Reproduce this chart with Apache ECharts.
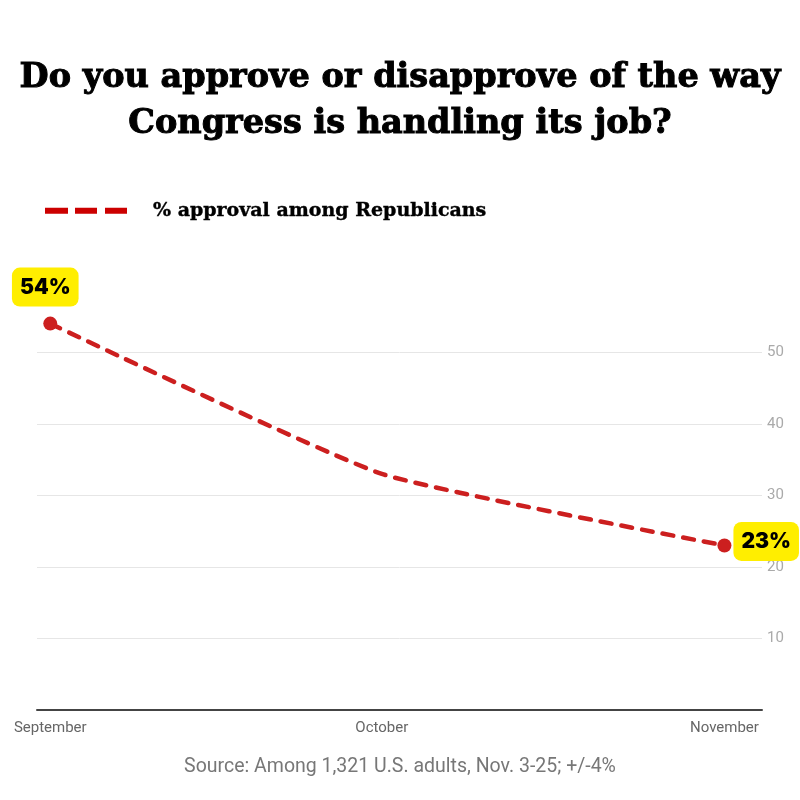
<!DOCTYPE html>
<html><head><meta charset="utf-8">
<script src="https://cdn.jsdelivr.net/npm/echarts@6/dist/echarts.min.js"></script>
<style>html,body{margin:0;padding:0;background:#fff}#c{width:800px;height:800px}</style>
</head><body><div id="c"></div>
<script>
const categories = ['September', 'October', 'November'];
const dayOffsets = [0, 30, 61];
const approval = [54, 33, 23];
const yTicks = [10, 20, 30, 40, 50];

const chart = echarts.init(document.getElementById('c'));
const seriesData = approval.map((v, i) => {
  const item = { value: [dayOffsets[i], v] };
  if (i === 1) item.symbolSize = 0;
  if (i === 0) item.label = { show: true, position: 'top', distance: 10, offset: [-5, 0] };
  if (i === approval.length - 1) item.label = { show: true, position: 'right', distance: 2, offset: [0, -4] };
  return item;
});
chart.setOption({
  backgroundColor: '#fff',
  title: {
    text: 'Do you approve or disapprove of the way\nCongress is handling its job?',
    left: 'center', top: 50,
    textStyle: { fontFamily: 'DejaVu Serif', fontWeight: 900, fontSize: 33.5, lineHeight: 46, color: '#000',
      textBorderColor: '#000', textBorderWidth: 1 }
  },
  legend: {
    left: 40, top: 196,
    itemWidth: 82, itemHeight: 6,
    icon: 'path://M0,0h23v6h-23z M30,0h22v6h-22z M60,0h22v6h-22z',
    itemStyle: { color: '#cc0000' },
    textStyle: { fontFamily: 'DejaVu Serif', fontWeight: 'bold', fontSize: 19, color: '#000', padding: [0, 0, 0, 21],
      textBorderColor: '#000', textBorderWidth: 0.4 },
    data: ['% approval among Republicans']
  },
  grid: { left: 37, right: 38, top: 295, bottom: 90, containLabel: false },
  xAxis: {
    type: 'value', min: -1.2, max: 64.4,
    splitLine: { show: false },
    axisLine: { show: true, lineStyle: { color: '#444', width: 2 } },
    axisTick: { show: false },
    axisLabel: {
      customValues: dayOffsets,
      formatter: (v) => categories[dayOffsets.indexOf(v)] || '',
      color: '#666', fontSize: 15, fontFamily: 'Roboto', margin: 11
    }
  },
  yAxis: {
    type: 'value', position: 'right', min: 0, max: 58, interval: 10,
    axisLine: { show: false }, axisTick: { show: false },
    splitLine: { showMaxLine: false, lineStyle: { color: '#e6e6e6', width: 1 } },
    axisLabel: {
      customValues: yTicks,
      color: '#aaa', fontSize: 15, fontFamily: 'Roboto', margin: 5
    }
  },
  series: [{
    name: '% approval among Republicans',
    type: 'line', smooth: 0.15,
    data: seriesData,
    symbol: 'circle', symbolSize: 14,
    itemStyle: { color: '#cc1f1f' },
    lineStyle: { color: '#cc1f1f', width: 4.5, type: [11, 10], cap: 'round' },
    label: {
      show: false,
      formatter: (p) => p.value[1] + '%',
      backgroundColor: '#ffee00', borderRadius: 8,
      padding: [10, 8, 8, 8],
      color: '#000', fontFamily: 'Inter', fontWeight: 900, fontSize: 21
    },
    emphasis: { disabled: true }
  }],
  graphic: [{
    type: 'text', left: 'center', top: 757,
    style: { text: 'Source: Among 1,321 U.S. adults, Nov. 3-25; +/-4%', fill: '#777', fontSize: 19.5, fontFamily: 'Roboto' }
  }],
  animation: false
});
</script></body></html>
